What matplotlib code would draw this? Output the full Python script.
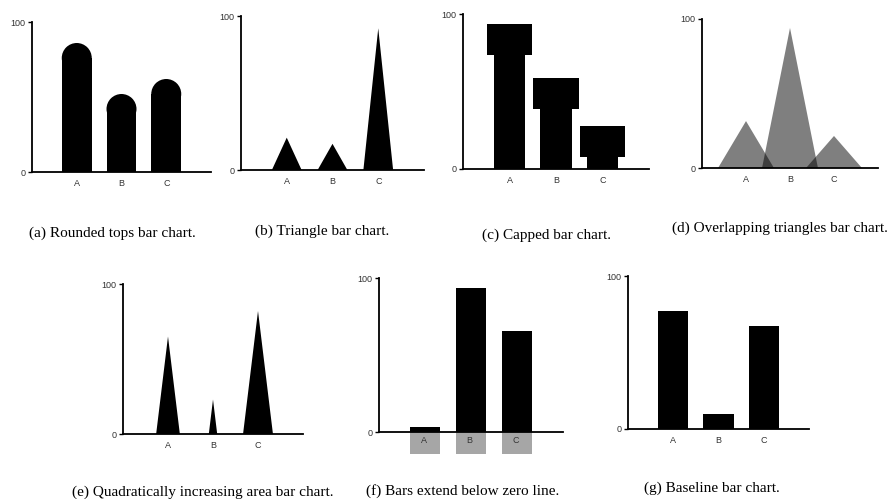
import matplotlib
matplotlib.use('Agg')
import matplotlib.pyplot as plt
from matplotlib.patches import Rectangle, Ellipse

# ─── data ─────────────────────────────────────────
categories = ['A', 'B', 'C']
positions = [1, 2, 3]

rounded_vals = [86, 52, 62]
triangle_vals = [21, 17, 92]
capped_vals = [93.5, 59, 28]
overlap_vals = [31.5, 94, 21.5]
quad_vals = [65, 23, 82]
below_vals = [3, 93.5, 65.6]
baseline_vals = [77, 10, 67]

captions = [
    '(a) Rounded tops bar chart.',
    '(b) Triangle bar chart.',
    '(c) Capped bar chart.',
    '(d) Overlapping triangles bar chart.',
    '(e) Quadratically increasing area bar chart.',
    '(f) Bars extend below zero line.',
    '(g) Baseline bar chart.',
]

W, H = 896, 499
fig = plt.figure(figsize=(W / 100, H / 100), dpi=100)
fig.patch.set_facecolor('white')

SANS = 'Liberation Sans'
SERIF = 'Liberation Serif'


def make_axes(xl, xr, y0, y100, ymin=0, labels=True):
    """pixel layout -> axes with y-axis 0..100 and x 0..4"""
    per = (y0 - y100) / 100.0
    ybot = y0 - ymin * per
    ax = fig.add_axes([xl / W, 1 - ybot / H, (xr - xl) / W, (ybot - y100) / H])
    ax.set_xlim(0, 4)
    ax.set_ylim(ymin, 100)
    for s in ['top', 'right']:
        ax.spines[s].set_visible(False)
    ax.spines['left'].set_bounds(0, 100)
    ax.spines['left'].set_linewidth(1.3)
    ax.spines['bottom'].set_linewidth(1.3)
    ax.spines['bottom'].set_position(('data', 0))
    ax.set_yticks([0, 100])
    ax.set_yticklabels(['0', '100'], fontsize=6.5, family=SANS, color='#333333')
    ax.tick_params(axis='y', length=3, width=1, pad=1.5)
    ax.set_xticks(positions)
    if labels:
        ax.set_xticklabels(categories, fontsize=6.5, family=SANS, color='#333333')
    else:
        ax.set_xticklabels([])
    ax.tick_params(axis='x', length=0, pad=5)
    ax.patch.set_alpha(0)
    return ax


def triangle(ax, x, v, w, **kw):
    ax.fill([x - w / 2, x, x + w / 2], [0, v, 0], lw=0, **kw)


# (a) rounded tops
ax = make_axes(32, 211, 172, 22)
bw = 0.67
px_x = ax.bbox.width / 4
px_y = ax.bbox.height / 100
ry = (bw / 2) * px_x / px_y
for x, v in zip(positions, rounded_vals):
    ax.add_patch(Rectangle((x - bw / 2, 0), bw, v - ry, color='black', lw=0))
    ax.add_patch(Ellipse((x, v - ry), bw, 2 * ry, color='black', lw=0))

# (b) triangles
ax = make_axes(241, 424, 170, 16)
for x, v in zip(positions, triangle_vals):
    triangle(ax, x, v, 0.65, color='black')

# (c) capped bars
ax = make_axes(463, 649, 169, 14)
cap_h = 20
for x, v in zip(positions, capped_vals):
    ax.add_patch(Rectangle((x - 0.335, 0), 0.67, v - cap_h, color='black', lw=0))
    ax.add_patch(Rectangle((x - 0.485, v - cap_h), 0.97, cap_h, color='black', lw=0))

# (d) overlapping triangles
ax = make_axes(702, 878, 168, 19)
for x, v in zip(positions, overlap_vals):
    triangle(ax, x, v, 1.27, color='black', alpha=0.5)

# (e) width grows with value
ax = make_axes(123, 303, 434, 284)
for x, v in zip(positions, quad_vals):
    triangle(ax, x, v, v * 0.0081, color='black')

# (f) bars extend below zero
ax = make_axes(379, 563, 432, 278, ymin=-14.5, labels=False)
for x, v, c in zip(positions, below_vals, categories):
    ax.add_patch(Rectangle((x - 0.335, -14.3), 0.67, 14.3, color='#a6a6a6', lw=0))
    ax.add_patch(Rectangle((x - 0.335, 0), 0.67, v, color='black', lw=0))
    ax.text(x - 0.03, -5.5, c, ha='center', va='center', fontsize=6.5,
            family=SANS, color='#333333')

# (g) baseline
ax = make_axes(628, 809, 429, 276)
ax.bar(positions, baseline_vals, width=0.67, color='black', lw=0)

# captions
cap_pos = [(112, 233), (322, 231), (546, 235), (780, 228),
           (203, 492), (463, 491), (712, 488)]
for (cx, cy), t in zip(cap_pos, captions):
    fig.text(cx / W, 1 - cy / H, t, ha='center', va='center',
             fontsize=11, family=SERIF, color='black')

plt.savefig('out.png', dpi=100, facecolor='white')
plt.close()
